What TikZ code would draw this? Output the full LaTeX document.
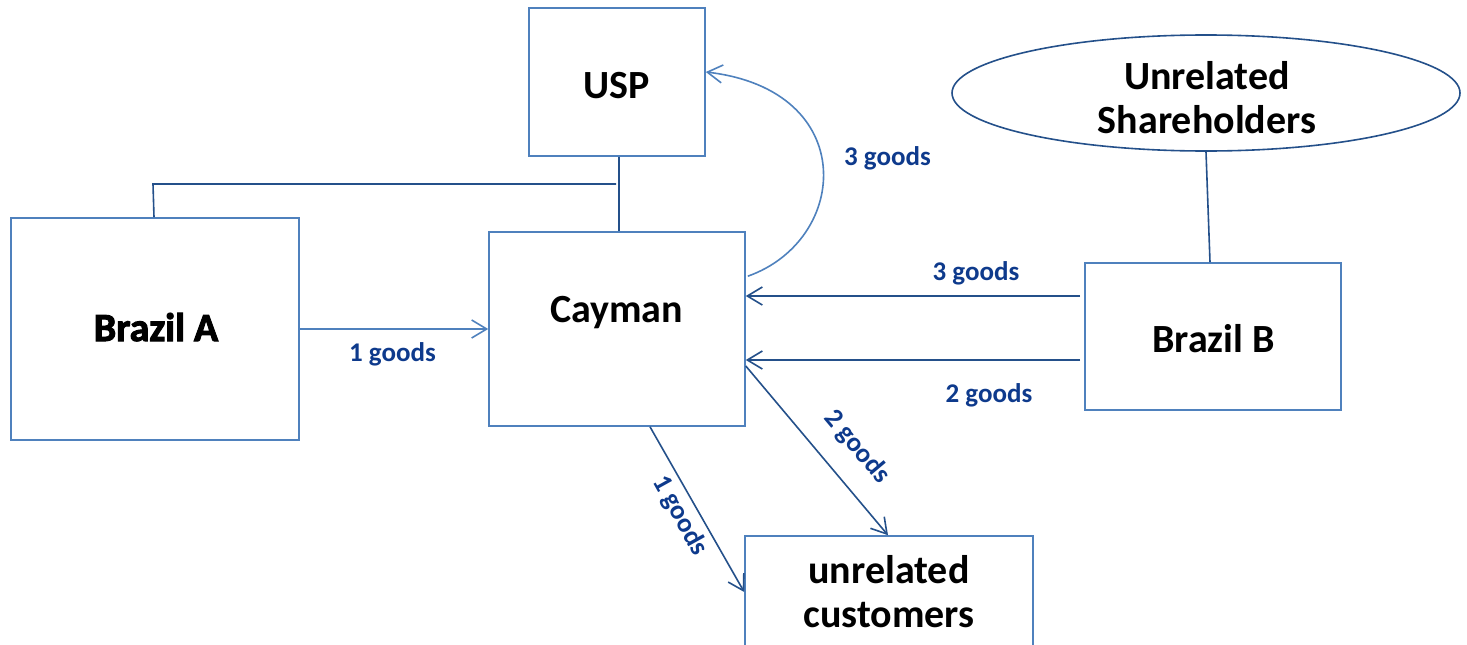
\documentclass[tikz,border=0pt]{standalone}
\usepackage{fontspec}
\setmainfont{Carlito}
\newfontfamily\heavyfont{Carlito Bold}[FakeBold=2.5]
\usetikzlibrary{arrows.meta,shapes.geometric}
\definecolor{boxblue}{HTML}{4F81BD}
\definecolor{darkline}{HTML}{24508A}
\definecolor{labelblue}{HTML}{0E3A8C}
\begin{document}
\begin{tikzpicture}[x=1pt,y=-1pt,
  box/.style={draw=boxblue, line width=1.6pt, rectangle, inner sep=0pt},
  big/.style={font=\fontsize{40}{44}\selectfont\bfseries, text=black, align=center, inner sep=0pt},
  lbl/.style={font=\fontsize{27}{30}\selectfont\bfseries, text=labelblue, inner sep=0pt},
  tipstyle/.style={-{Straight Barb[length=15pt,width=18pt]}},
  lightarrow/.style={draw=boxblue, line width=1.6pt, tipstyle},
  darkarrow/.style={draw=darkline, line width=1.6pt, tipstyle},
  darkconn/.style={draw=darkline, line width=1.6pt}
]
\useasboundingbox (0,0) rectangle (1467,645);
\clip (0,0) rectangle (1467,645);

% boxes
\node[box, minimum width=176pt, minimum height=148pt] (usp) at (617,82) {};
\node[box, minimum width=256pt, minimum height=194pt] (cayman) at (617,329) {};
\node[box, minimum width=288pt, minimum height=222pt] (brazilA) at (155,329) {};
\node[box, minimum width=256pt, minimum height=147pt] (brazilB) at (1213,336.5) {};
\node[box, minimum width=288pt, minimum height=124pt] (cust) at (889,598) {};
\node[ellipse, draw=darkline, line width=1.6pt, minimum width=508pt, minimum height=116pt,
      inner sep=0pt] (share) at (1206,93) {};

% box texts
\node[big, anchor=base] (usptext) at (616.5,98) {USP};
\node[big, anchor=base] (caymantext) at (616.5,322) {Cayman};
\node[big, font=\fontsize{40}{44}\heavyfont, anchor=base] (brazilAtext) at (156,341) {Brazil A};
\node[big, anchor=base] (brazilBtext) at (1213.5,352) {Brazil B};
\node[big] (custtext) at (889,592) {unrelated\\customers};
\node[big] (sharetext) at (1207,98) {Unrelated\\Shareholders};

% ownership lines
\coordinate (bend) at (153,184);
\coordinate (joint) at (616,184);
\draw[darkconn] ([xshift=2pt]usp.south) -- ([xshift=2pt]cayman.north);
\draw[darkconn] ([xshift=-1pt]brazilA.north) -- (bend) -- (joint);
\draw[darkconn] (share.south) -- ([xshift=-3pt]brazilB.north);

% flows
\draw[lightarrow] (brazilA.east) -- (cayman.west);
\draw[lightarrow] ([xshift=2pt,yshift=-45pt]cayman.north east)
   .. controls (850,240) and (860,90) .. ([yshift=10pt]usp.east);
\draw[darkarrow] ([xshift=-4pt,yshift=40.5pt]brazilB.west) -- ([yshift=33pt]cayman.east);
\draw[darkarrow] ([xshift=-4pt,yshift=-23.5pt]brazilB.west) -- ([yshift=-31pt]cayman.east);
\draw[darkarrow] ([yshift=-37pt]cayman.east) -- ([xshift=-1pt]cust.north);
\draw[darkarrow] ([xshift=33pt]cayman.south) -- ([yshift=6pt]cust.west);

% labels
\node[lbl, anchor=base] (l1) at (392.5,361) {1 goods};
\node[lbl, anchor=base] (l2) at (887.5,165) {3 goods};
\node[lbl, anchor=base] (l3) at (976,280) {3 goods};
\node[lbl, anchor=base] (l4) at (989,402) {2 goods};
\node[lbl, rotate=-50] (l5) at (857,447) {2 goods};
\node[lbl, rotate=-61] (l6) at (680,516) {1 goods};
\end{tikzpicture}
\end{document}
